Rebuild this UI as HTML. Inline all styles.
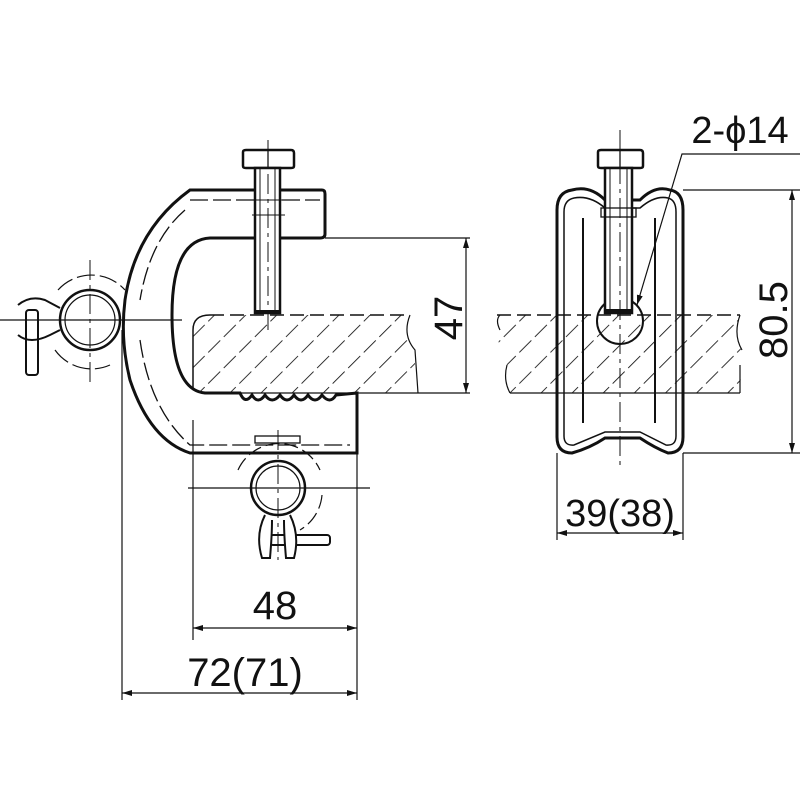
<!DOCTYPE html>
<html><head><style>body{margin:0;background:#fff}svg{display:block}text{font-family:"Liberation Sans",sans-serif;fill:#111}</style></head><body>
<svg width="800" height="800" viewBox="0 0 800 800" xmlns="http://www.w3.org/2000/svg">
<defs>
<pattern id="h" patternUnits="userSpaceOnUse" width="22" height="22" patternTransform="rotate(45)">
<line x1="0" y1="0" x2="0" y2="22" stroke="#111" stroke-width="1.7" stroke-dasharray="14,5"/>
</pattern>
<clipPath id="cl"><path d="M193,393 L193,330 Q193,315 210,315 L410,315 Q402,335 415,350 L415,393 Z"/></clipPath>
<clipPath id="cr"><path d="M497,315 L740,315 Q733,335 742,350 L740,393 L510,393 Q503,380 507,365 Q495,345 500,330 Z"/></clipPath>
<marker id="a" viewBox="0 0 10 10" refX="10" refY="5" markerWidth="10" markerHeight="10" orient="auto-start-reverse" markerUnits="userSpaceOnUse"><path d="M0,2 L10,5 L0,8" fill="#111"/></marker>
</defs>
<g fill="none" stroke="#111">
<rect x="180" y="300" width="260" height="110" fill="url(#h)" clip-path="url(#cl)" stroke="none"/>
<path d="M193,393 L193,330 Q193,315 210,315" stroke-width="1.5"/>
<line x1="210" y1="315" x2="410" y2="315" stroke-width="1.5" stroke-dasharray="14,6"/>
<path d="M410,315 Q402,335 415,350 L418,393" stroke-width="1.2"/>
<line x1="193" y1="393" x2="470" y2="393" stroke-width="1.2"/>
<path d="M190,190 L322,190 Q325,190 325,194 L325,234 Q325,238 320,238 L210,238 Q172,240 172,315 Q172,390 205,393 L240,393 Q245,405 252,395 Q258,405 265,395 Q272,405 280,395 Q287,405 294,395 Q301,405 308,395 Q315,405 322,395 Q330,405 336,395 L357,393 L357,453 L190,453 Q150,440 130,380 Q120,340 125,300 Q135,230 190,190 Z" stroke-width="3" fill="#fff"/>
<path d="M190,200 L320,200 M185,210 Q150,240 140,300 M140,340 Q150,410 190,445 L350,445" stroke-width="1.3" stroke-dasharray="18,5"/>
<path d="M193,420 L193,640 M357,453 L357,700 M122,330 L122,700" stroke-width="1.2"/>
<rect x="255" y="436" width="45" height="7" stroke-width="1.3"/>
<path d="M243,152 Q243,150 246,150 L291,150 Q294,150 294,153 L294,166 Q294,168 291,168 L246,168 Q243,168 243,166 Z" stroke-width="2.5" fill="#fff"/>
<line x1="268" y1="150" x2="268" y2="168" stroke-width="1.3"/>
<rect x="255" y="168" width="25" height="145" stroke-width="2.5" fill="#fff"/>
<line x1="260" y1="168" x2="260" y2="313" stroke-width="1"/><line x1="275" y1="168" x2="275" y2="313" stroke-width="1"/>
<path d="M250,200 L285,200 M252,215 L285,215" stroke-width="1"/>
<line x1="256" y1="312" x2="279" y2="312" stroke-width="4"/>
<line x1="268" y1="140" x2="268" y2="330" stroke-width="1" stroke-dasharray="20,5,4,5"/>
<circle cx="90" cy="320" r="30" stroke-width="2.5" fill="#fff"/>
<circle cx="90" cy="320" r="25" stroke-width="1.2"/>
<path d="M58,290 A45,45 0 0 1 125,290 M55,350 A45,45 0 0 0 110,365" stroke-width="1.2" stroke-dasharray="18,5"/>
<rect x="26" y="310" width="12" height="65" rx="3" stroke-width="2" fill="#fff"/>
<path d="M18,305 Q30,295 45,300 L60,308 M18,335 Q30,345 50,335 L60,330" stroke-width="2"/>
<line x1="0" y1="320" x2="182" y2="320" stroke-width="1.2"/>
<line x1="90" y1="260" x2="90" y2="385" stroke-width="1" stroke-dasharray="20,5,4,5"/>
<circle cx="278" cy="488" r="27" stroke-width="2.5" fill="#fff"/>
<circle cx="278" cy="488" r="22" stroke-width="1.2"/>
<path d="M238,470 A45,45 0 0 1 320,470 M322,495 A45,45 0 0 1 300,530" stroke-width="1.2" stroke-dasharray="14,5"/>
<rect x="270" y="535" width="60" height="10" rx="3" stroke-width="2" fill="#fff"/>
<path d="M265,515 Q255,535 262,558 L270,558 Q272,535 272,520 M290,515 Q300,535 294,558 L286,558 Q284,535 284,520" stroke-width="2" fill="#fff"/>
<line x1="188" y1="488" x2="370" y2="488" stroke-width="1.2"/>
<line x1="278" y1="430" x2="278" y2="560" stroke-width="1" stroke-dasharray="20,5,4,5"/>
<line x1="325" y1="238" x2="470" y2="238" stroke-width="1.2"/>
<line x1="466" y1="238" x2="466" y2="393" stroke-width="1.2" marker-start="url(#a)" marker-end="url(#a)"/>
<line x1="193" y1="628" x2="357" y2="628" stroke-width="1.2" marker-start="url(#a)" marker-end="url(#a)"/>
<line x1="122" y1="693" x2="357" y2="693" stroke-width="1.2" marker-start="url(#a)" marker-end="url(#a)"/>
<rect x="490" y="300" width="260" height="110" fill="url(#h)" clip-path="url(#cr)" stroke="none"/>
<path d="M497,315 L740,315" stroke-width="1.5" stroke-dasharray="14,6"/>
<path d="M500,330 Q495,320 500,315 M507,365 Q503,380 510,393" stroke-width="1.2"/>
<path d="M740,315 Q733,335 742,350 M740,365 L740,393" stroke-width="1.2"/>
<line x1="510" y1="393" x2="740" y2="393" stroke-width="1.2"/>
<path d="M572,190 Q590,185 605,200 L640,200 Q655,185 670,190 Q683,192 683,210 L683,437 Q683,453 668,453 Q655,448 640,438 L605,438 Q590,448 572,453 Q557,453 557,437 L557,210 Q557,192 572,190 Z" stroke-width="3"/>
<path d="M574,198 Q590,195 605,208 L640,208 Q655,195 668,198 Q676,200 676,212 L676,436 Q676,446 666,445 L640,432 L605,432 L574,445 Q564,446 564,436 L564,212 Q564,200 574,198 Z" stroke-width="1.5"/>
<line x1="583" y1="218" x2="583" y2="423" stroke-width="2"/><line x1="655" y1="218" x2="655" y2="423" stroke-width="2"/>
<circle cx="620" cy="321" r="23" stroke-width="2"/>
<path d="M598,152 Q598,150 601,150 L640,150 Q643,150 643,153 L643,166 Q643,168 640,168 L601,168 Q598,168 598,166 Z" stroke-width="2.5" fill="#fff"/>
<line x1="620" y1="150" x2="620" y2="168" stroke-width="1.3"/>
<rect x="605" y="168" width="27" height="145" stroke-width="2.5" fill="#fff"/>
<line x1="610" y1="168" x2="610" y2="313" stroke-width="1"/><line x1="627" y1="168" x2="627" y2="313" stroke-width="1"/>
<rect x="601" y="208" width="35" height="9" stroke-width="1.3"/>
<line x1="606" y1="311" x2="631" y2="311" stroke-width="4"/>
<line x1="620" y1="130" x2="620" y2="470" stroke-width="1" stroke-dasharray="20,5,4,5"/>
<line x1="683" y1="190" x2="800" y2="190" stroke-width="1.2"/>
<line x1="683" y1="453" x2="800" y2="453" stroke-width="1.2"/>
<line x1="792" y1="190" x2="792" y2="453" stroke-width="1.2" marker-start="url(#a)" marker-end="url(#a)"/>
<line x1="557" y1="453" x2="557" y2="540" stroke-width="1.2"/><line x1="683" y1="453" x2="683" y2="540" stroke-width="1.2"/>
<line x1="557" y1="533" x2="683" y2="533" stroke-width="1.2" marker-start="url(#a)" marker-end="url(#a)"/>
<path d="M800,154 L682,154 L637,305" stroke-width="1.2" marker-end="url(#a)"/>
</g>
<text x="448" y="318" font-size="40" text-anchor="middle" transform="rotate(-90 448 318)" dy="14">47</text>
<text x="275" y="619" font-size="40" text-anchor="middle">48</text>
<text x="245" y="686" font-size="40" text-anchor="middle">72(71)</text>
<text x="620" y="526" font-size="38" text-anchor="middle">39(38)</text>
<text x="773" y="320" font-size="40" text-anchor="middle" transform="rotate(-90 773 320)" dy="14">80.5</text>
<text x="740" y="143" font-size="38" text-anchor="middle">2-ϕ14</text>
</svg>
</body></html>
